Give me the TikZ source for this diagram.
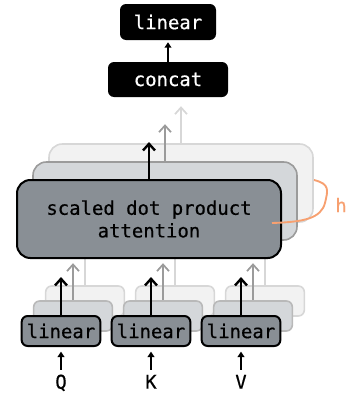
\documentclass[tikz,border=0pt]{standalone}
\usepackage{fontspec}
\newfontfamily\diagmono{DejaVu Sans Mono}[FakeBold=0.5]
\usetikzlibrary{arrows.meta}
\definecolor{headgray}{RGB}{137,143,149}
\definecolor{midfill}{RGB}{212,215,218}
\definecolor{midline}{RGB}{155,155,155}
\definecolor{farfill}{RGB}{242,242,242}
\definecolor{farline}{RGB}{215,215,215}
\definecolor{headorange}{RGB}{247,160,112}
\tikzset{
  mono/.style={font=\fontsize{14.2}{17}\diagmono},
  blackbox/.style={mono, fill=black, text=white, rounded corners=4.5pt, inner sep=0pt},
  attbox/.style={mono, draw=black, line width=1.5pt, fill=headgray, rounded corners=10pt, minimum width=198pt, minimum height=58.5pt, inner sep=0pt, align=center},
  attmid/.style={draw=midline, line width=1.2pt, fill=midfill, rounded corners=10pt, minimum width=198pt, minimum height=58.5pt},
  attfar/.style={draw=farline, line width=1.2pt, fill=farfill, rounded corners=10pt, minimum width=198pt, minimum height=58.5pt},
  linbox/.style={mono, draw=black, line width=1.5pt, fill=headgray, rounded corners=4.5pt, minimum width=59pt, minimum height=22.5pt, inner sep=0pt},
  linmid/.style={draw=midline!70, line width=1.2pt, fill=midfill, rounded corners=4.5pt, minimum width=59pt, minimum height=22.5pt},
  linfar/.style={draw=farline, line width=1.2pt, fill=farfill, rounded corners=4.5pt, minimum width=59pt, minimum height=22.5pt},
  arrblack/.style={line width=1.8pt, -{Straight Barb[length=5pt,width=9pt]}},
  arrmid/.style={draw=midline, line width=1.3pt, -{Straight Barb[length=5pt,width=9pt]}},
  arrfar/.style={draw=farline, line width=1.3pt, -{Straight Barb[length=5pt,width=9pt]}},
  arrsmall/.style={line width=1.4pt, -{Triangle[length=4pt,width=5pt]}},
  inlabel/.style={mono, inner sep=0pt, text height=10pt, text depth=0pt}
}
\begin{document}
\begin{tikzpicture}[x=0.75pt,y=0.75pt,yscale=-1,xscale=1]
\useasboundingbox (0,0) rectangle (355,393);

%Attention stack, back layers
\node [attfar] (sdpaC) at (181,183) {};
\draw [arrfar] (sdpaC.north) -- ++(0,-37);
\node [attmid] (sdpaB) at (165,201) {};
\draw [arrmid] (sdpaB.north) -- ++(0,-37);

%Linear stacks, back layers
\node [linfar] (linQc) at (85,301) {};
\node [linfar] (linKc) at (175,301) {};
\node [linfar] (linVc) at (265,301) {};
\draw [arrfar] (linQc.north) -- ++(0,-38);
\draw [arrfar] (linKc.north) -- ++(0,-38);
\draw [arrfar] (linVc.north) -- ++(0,-38);
\node [linmid] (linQb) at (73,316) {};
\node [linmid] (linKb) at (163,316) {};
\node [linmid] (linVb) at (253,316) {};
\draw [arrmid] (linQb.north) -- ++(0,-37);
\draw [arrmid] (linKb.north) -- ++(0,-37);
\draw [arrmid] (linVb.north) -- ++(0,-37);

%Attention, front layer
\node [attbox] (sdpa) at (149,219) {scaled dot product\\attention};
\draw [arrblack] (sdpa.north) -- ++(0,-37);

%Linear, front layer
\node [linbox] (linQ) at (61,331) {linear};
\node [linbox] (linK) at (151,331) {linear};
\node [linbox] (linV) at (241,331) {linear};
\draw [arrblack] (linQ.north) -- ++(0,-38);
\draw [arrblack] (linK.north) -- ++(0,-38);
\draw [arrblack] (linV.north) -- ++(0,-38);

%Concat and output
\node [blackbox, minimum width=90pt, minimum height=26.25pt] (concat) at (168,79.5) {concat};
\node [blackbox, minimum width=72pt, minimum height=27pt] (out) at (168,22) {linear};
\draw [arrsmall, shorten >=1.5pt] (concat.north) -- (out.south);

% Text Node
\node [inlabel] (q) at (61,382) {Q};
\node [inlabel] (k) at (151,382) {K};
\node [inlabel] (v) at (241,382) {V};
\draw [arrsmall, shorten <=4pt, shorten >=3.5pt] (q.north) -- (linQ.south);
\draw [arrsmall, shorten <=4pt, shorten >=3.5pt] (k.north) -- (linK.south);
\draw [arrsmall, shorten <=4pt, shorten >=3.5pt] (v.north) -- (linV.south);

%Heads brace
\coordinate (braceTop) at (314,180);
\coordinate (braceEnd) at (272,223);
\draw [headorange, line width=1.4pt] (braceTop) .. controls (330,184) and (328,190) .. (325,203) .. controls (321,218) and (305,222) .. (braceEnd);
\node [mono, text=headorange, inner sep=0pt] (h) at (341,205) {h};

\end{tikzpicture}
\end{document}
